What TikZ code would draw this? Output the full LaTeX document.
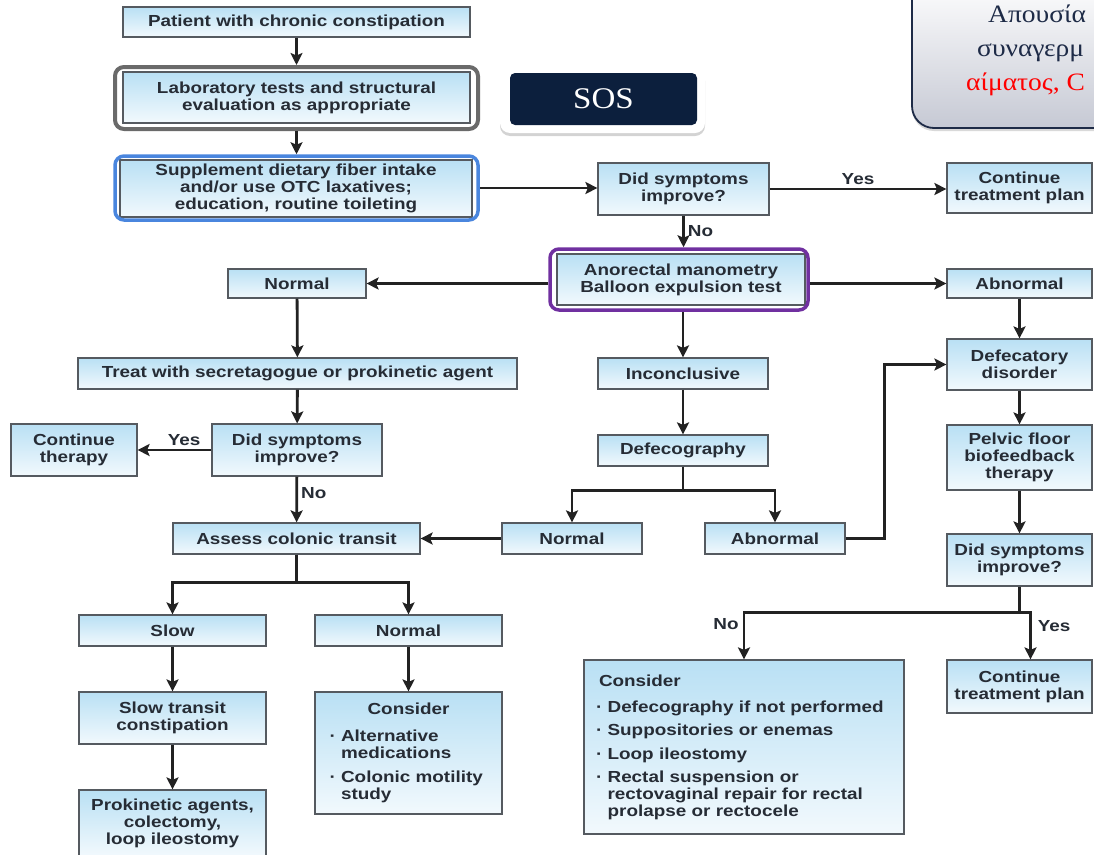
\documentclass[tikz,border=0pt]{standalone}
\usepackage{fontspec}
\setmainfont{Liberation Sans}[FakeStretch=1.18]
\newfontfamily\slidefont{Liberation Serif}[FakeStretch=1.1]
\usetikzlibrary{arrows.meta,shadows}
\definecolor{boxtop}{HTML}{B9E0F4}
\definecolor{boxbot}{HTML}{F2F9FD}
\definecolor{boxline}{HTML}{555A60}
\definecolor{txtdark}{HTML}{262C35}
\definecolor{arrowgray}{HTML}{222222}
\definecolor{sosnavy}{HTML}{0C1F3D}
\definecolor{grknavy}{HTML}{1E2B47}
\definecolor{labgray}{HTML}{6A6A6A}
\definecolor{supblue}{HTML}{4A86DE}
\definecolor{anopurple}{HTML}{7030A0}

\begin{document}
\begin{tikzpicture}[x=1pt, y=-1pt,
  flowbox/.style={draw=boxline, line width=1.2pt, top color=boxtop, bottom color=boxbot, inner sep=0pt, align=center, text=txtdark, font=\fontsize{16}{17}\selectfont\bfseries},
  hilite/.style={draw, rounded corners=9pt, inner sep=0pt},
  lbl/.style={font=\fontsize{16}{17}\selectfont\bfseries, text=txtdark, inner sep=3pt},
  conn/.style={->, line width=2.8pt, draw=arrowgray},
  >={Stealth[length=12pt,width=12pt,inset=2.5pt]}]
\useasboundingbox (0,0) rectangle (1094,854);
\clip (0,0) rectangle (1094,854);

\node (alarm) [draw=grknavy, line width=1.8pt, rounded corners=22pt, top color=white, bottom color={rgb,255:red,198;green,201;blue,212}, minimum width=220, minimum height=150, drop shadow={opacity=.3, shadow xshift=0pt, shadow yshift=-3pt}] at (1022,53) {};
\node (alarm1) [anchor=base west, inner sep=0pt, text=grknavy, font=\slidefont\fontsize{25}{30}\selectfont] at (988,22) {Απουσία};
\node (alarm2) [anchor=base west, inner sep=0pt, text=grknavy, font=\slidefont\fontsize{25}{30}\selectfont] at (977,56) {συναγερμ};
\node (alarm3) [anchor=base west, inner sep=0pt, text=red, font=\slidefont\fontsize{25}{30}\selectfont] at (966,90) {αίματος, C};

\node (sosbg) [fill=white, rounded corners=10pt, minimum width=205, minimum height=65, drop shadow={opacity=.35, shadow xshift=0pt, shadow yshift=-3pt}] at (602.5,100.5) {};
\node (sos) [fill=sosnavy, rounded corners=5pt, minimum width=187, minimum height=52, text=white, font=\slidefont\fontsize{30}{30}\selectfont] at (603.5,99) {SOS};

\node (patient) [flowbox, minimum width=347, minimum height=30] at (296.5,22) {Patient with chronic constipation};
\node (lab) [flowbox, minimum width=347, minimum height=51] at (296.5,97.5) {Laboratory tests and structural\\evaluation as appropriate};
\node (labfr) [hilite, draw=labgray, line width=4pt, minimum width=363, minimum height=62] at (296.5,98) {};
\node (sup) [flowbox, minimum width=352, minimum height=57] at (296,188.5) {Supplement dietary fiber intake\\and/or use OTC laxatives;\\education, routine toileting};
\node (supfr) [hilite, draw=supblue, line width=3.5pt, minimum width=363, minimum height=64] at (296.5,188) {};

\node (did1) [flowbox, minimum width=171, minimum height=52] at (683.5,189) {Did symptoms\\improve?};
\node (cont1) [flowbox, minimum width=145, minimum height=50] at (1019.5,188) {Continue\\treatment plan};
\node (ano) [flowbox, minimum width=248, minimum height=51] at (681,279.5) {Anorectal manometry\\Balloon expulsion test};
\node (anofr) [hilite, draw=anopurple, line width=3.5pt, minimum width=258, minimum height=61] at (679,279.5) {};
\node (norm1) [flowbox, minimum width=138, minimum height=29] at (297,283.5) {Normal};
\node (abn1) [flowbox, minimum width=145, minimum height=29] at (1019.5,283.5) {Abnormal};

\node (treat) [flowbox, minimum width=439, minimum height=31] at (297.5,373.5) {Treat with secretagogue or prokinetic agent};
\node (did2) [flowbox, minimum width=170, minimum height=52] at (297,450) {Did symptoms\\improve?};
\node (contth) [flowbox, minimum width=126, minimum height=52] at (74,450) {Continue\\therapy};
\node (assess) [flowbox, minimum width=247, minimum height=31] at (296.5,538.5) {Assess colonic transit};

\node (incon) [flowbox, minimum width=170, minimum height=31] at (683,373.5) {Inconclusive};
\node (defeco) [flowbox, minimum width=170, minimum height=31] at (683,450.5) {Defecography};
\node (norm2) [flowbox, minimum width=140, minimum height=31] at (572,538.5) {Normal};
\node (abn2) [flowbox, minimum width=140, minimum height=31] at (775,538.5) {Abnormal};

\node (defdis) [flowbox, minimum width=145, minimum height=51] at (1019.5,364.5) {Defecatory\\disorder};
\node (pelvic) [flowbox, minimum width=145, minimum height=65] at (1019.5,457.5) {Pelvic floor\\biofeedback\\therapy};
\node (did3) [flowbox, minimum width=145, minimum height=52] at (1019.5,560) {Did symptoms\\improve?};
\node (cont2) [flowbox, minimum width=145, minimum height=53] at (1019.5,686.5) {Continue\\treatment plan};
\node (cons2) [flowbox, minimum width=320, minimum height=174, align=left, text width=296] at (744,747) {\hspace{3pt}Consider\\[9pt]
· Defecography if not performed\\[6pt]
· Suppositories or enemas\\[7pt]
· Loop ileostomy\\[6pt]
· Rectal suspension or\\
\phantom{· }rectovaginal repair for rectal\\
\phantom{· }prolapse or rectocele};

\node (slow) [flowbox, minimum width=187, minimum height=31] at (172.5,630.5) {Slow};
\node (norm3) [flowbox, minimum width=187, minimum height=31] at (408.5,630.5) {Normal};
\node (slowtr) [flowbox, minimum width=187, minimum height=52] at (172.5,718) {Slow transit\\constipation};
\node (prok) [flowbox, minimum width=187, minimum height=66] at (172.5,823) {Prokinetic agents,\\colectomy,\\loop ileostomy};
\node (cons1) [flowbox, minimum width=187, minimum height=122, align=left, text width=158] at (408.5,753) {\makebox[158pt]{Consider}\\[10pt]
· Alternative\\
\phantom{· }medications\\[7pt]
· Colonic motility\\
\phantom{· }study};

\draw[conn] (patient) -- (labfr);
\draw[conn] (labfr) -- (supfr);
\draw[conn] (supfr.east) -- (did1.west |- supfr.east);
\draw[conn] (did1.east) -- node[lbl, above] {Yes} (cont1.west |- did1.east);
\draw[conn] (did1.south) -- node[lbl, right] {No} (did1.south |- anofr.north);
\draw[conn] (anofr.west |- norm1.east) -- (norm1.east);
\draw[conn] (anofr.east |- abn1.west) -- (abn1.west);
\draw[conn] (norm1) -- (treat);
\draw[conn] (treat) -- (did2);
\draw[conn] (did2.west) -- node[lbl, above, pos=.37] {Yes} (contth.east);
\draw[conn] (did2) -- node[lbl, right, pos=.35] {No} (assess);
\draw[conn] (incon.north |- anofr.south) -- (incon.north);
\draw[conn] (incon) -- (defeco);
\draw[conn] (defeco.south) -- ++(0,24) -| (norm2.north);
\draw[conn] (defeco.south) -- ++(0,24) -| (abn2.north);
\draw[conn] (norm2) -- (assess);
\draw[conn] (abn2.east) -- ++(39,0) |- (defdis.west);
\draw[conn] (abn1) -- (defdis);
\draw[conn] (defdis) -- (pelvic);
\draw[conn] (pelvic) -- (did3);
\coordinate (split) at ([yshift=-26pt]did3.south);
\draw[line width=2.8pt, draw=arrowgray] (did3.south) -- (split);
\draw[conn] (split) -| node[lbl, pos=.5, anchor=north east, inner sep=4pt] {No} (cons2.north);
\draw[conn] (split) -| node[lbl, pos=.5, anchor=north west, inner sep=6pt] {Yes} ([xshift=11pt]cont2.north);
\draw[conn] (assess.south) -- ++(0,28) -| (slow.north);
\draw[conn] (assess.south) -- ++(0,28) -| (norm3.north);
\draw[conn] (slow) -- (slowtr);
\draw[conn] (slowtr) -- (prok);
\draw[conn] (norm3) -- (cons1);
\end{tikzpicture}
\end{document}
